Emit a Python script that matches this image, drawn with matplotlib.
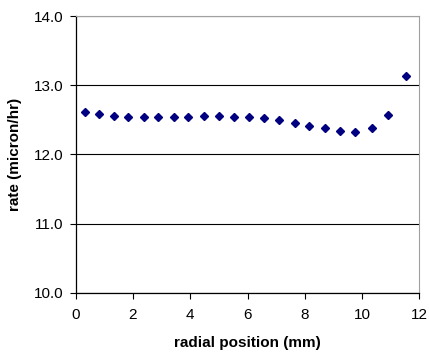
import matplotlib
matplotlib.use('Agg')
import matplotlib.pyplot as plt

# radial position (mm) and deposition rate (micron/hr)
radial_pos = [0.32, 0.83, 1.34, 1.84, 2.40, 2.89, 3.44, 3.93, 4.49, 5.01, 5.54,
              6.04, 6.59, 7.09, 7.65, 8.14, 8.70, 9.23, 9.74, 10.34, 10.92, 11.53]
rate = [12.61, 12.59, 12.555, 12.54, 12.54, 12.54, 12.54, 12.54, 12.56, 12.56, 12.54,
        12.54, 12.52, 12.49, 12.45, 12.415, 12.385, 12.34, 12.33, 12.385, 12.575, 13.13]

plt.rcParams['font.family'] = ['Liberation Sans', 'DejaVu Sans']

fig = plt.figure(figsize=(4.29, 3.52), dpi=100)
ax = fig.add_axes([0.1765, 0.1685, 0.8009, 0.786])

ax.plot(radial_pos, rate, linestyle='none', marker='D', markersize=4.5,
        color='#000080', zorder=3)

ax.set_xlim(0, 12)
ax.set_ylim(10, 14)
ax.set_xticks(range(0, 13, 2))
ax.set_yticks([10, 11, 12, 13, 14])
ax.set_yticklabels(['%.1f' % v for v in [10, 11, 12, 13, 14]])
ax.grid(axis='y', color='black', linewidth=0.8)
ax.set_axisbelow(True)

ax.spines['top'].set_color('#a0a0a0')
ax.spines['right'].set_color('#a0a0a0')
for s in ['left', 'bottom']:
    ax.spines[s].set_color('black')
    ax.spines[s].set_linewidth(0.9)
ax.tick_params(direction='out', length=4, width=0.8, labelsize=11, colors='black')
ax.tick_params(axis='x', pad=7)
ax.tick_params(axis='y', pad=5)

ax.set_xlabel('radial position (mm)', fontsize=11, fontweight='bold', labelpad=10)
ax.set_ylabel('rate (micron/hr)', fontsize=11, fontweight='bold', labelpad=8)

fig.savefig('out.png', dpi=100)
